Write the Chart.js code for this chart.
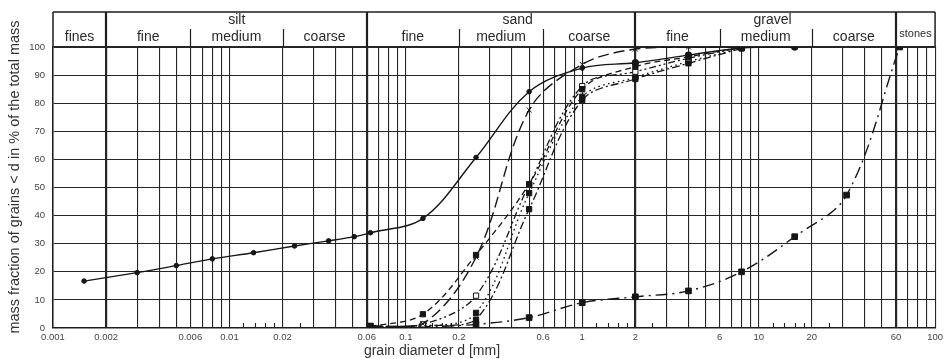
<!DOCTYPE html>
<html><head><meta charset="utf-8">
<script src="https://cdn.jsdelivr.net/npm/chart.js@4.4.1/dist/chart.umd.min.js"></script>
<style>html,body{margin:0;padding:0;background:#fff;}canvas{display:block;}</style>
</head><body>
<canvas id="c" width="947" height="359"></canvas>
<script>
// ---------- data ----------
const hydroDiameters = [0.0015, 0.003, 0.005, 0.008, 0.0137, 0.0234, 0.0365, 0.051];
const hydroSeriesA   = [16.7, 19.7, 22.2, 24.6, 26.8, 29.2, 31.0, 32.5];
const sieveDiameters = [0.063, 0.125, 0.25, 0.5, 1, 2, 4, 8, 16, 31.5, 63];
const seriesA = [33.9, 39.0, 60.7, 84.1, 92.5, 94.4, 97.1, 99.7, 100, null, null];
const seriesB = [0.5, 1.5, 25.2, 77.6, 93.8, 99.3, 100, 100, null, null, null];
const seriesC = [0.5, 4.9, 26.0, 51.2, 85.0, 93.0, 96.5, 100, null, null, null];
const seriesD = [0.5, 1.3, 11.5, 51.0, 86.1, 91.2, 96.0, 99.8, null, null, null];
const seriesE = [0.3, 0.5, 5.4, 48.0, 82.3, 89.2, 94.8, 99.6, null, null, null];
const seriesF = [0.3, 0.8, 3.0, 42.3, 81.1, 88.6, 94.2, 99.5, null, null, null];
const seriesS = [0.7, 0.5, 1.3, 3.7, 9.0, 11.1, 13.2, 20.0, 32.5, 47.3, 100];

const xTickLabels = ['0.001','0.002','0.006','0.01','0.02','0.06','0.1','0.2','0.6','1','2','6','10','20','60','100'];
const yTickValues = [0,10,20,30,40,50,60,70,80,90,100];
const minorTickValues = [0.012,0.014,0.016,0.018,0.025, 0.12,0.14,0.16,0.18,0.25, 1.2,1.4,1.6,1.8,2.5, 12,14,16,18,25];
const classBounds = [0.002, 0.06, 2, 60];
const subBounds = [0.006, 0.02, 0.2, 0.6, 6, 20];
const subEdges = [0.001, 0.002, 0.006, 0.02, 0.06, 0.2, 0.6, 2, 6, 20, 60, 100];
const subClasses = ['fines','fine','medium','coarse','fine','medium','coarse','fine','medium','coarse','stones'];
const mainClasses = ['silt','sand','gravel'];
const mainClassPos = [0.011, 0.43, 12];
const xTitle = 'grain diameter d [mm]';
const yTitle = 'mass fraction of grains < d in % of the total mass';

// ---------- helpers ----------
const FONT = "'Liberation Sans', Arial, sans-serif";
const gridValues = [];
for (let k = -3; k <= 1; k++) for (let n = 1; n <= 9; n++) gridValues.push(parseFloat((n * Math.pow(10, k)).toPrecision(6)));
gridValues.push(100);
const near = (a, b) => Math.abs(Math.log10(a) - Math.log10(b)) < 1e-6;
function pts(xs, ys) { return xs.map((x, i) => ys[i] == null ? null : {x: x, y: ys[i]}).filter(p => p); }
const INK = '#161616';

function ds(data, dash, style, radius, fill, width) {
  return {
    data: data, showLine: true, borderColor: INK, borderWidth: width || 1.3, borderDash: dash,
    tension: 0.35, pointStyle: style, pointRadius: radius,
    pointBackgroundColor: fill, pointBorderColor: INK, pointBorderWidth: 1, pointHoverRadius: radius
  };
}

const dataA = pts(hydroDiameters, hydroSeriesA).concat(pts(sieveDiameters, seriesA));
const datasets = [
  ds(dataA, [], 'circle', (c) => (c.raw && c.raw.x >= 2 ? 3.3 : 2.3), INK, 1.4),
  ds(pts(sieveDiameters, seriesB), [11, 5], 'crossRot', 3.5, INK, 1.4),
  ds(pts(sieveDiameters, seriesC), [6, 4], 'rect', 3.7, INK),
  ds(pts(sieveDiameters, seriesD), [7, 3, 2, 3, 2, 3], 'rect', 3.7, '#fff'),
  ds(pts(sieveDiameters, seriesE), [1.6, 3.4], 'rect', 3.7, INK),
  ds(pts(sieveDiameters, seriesF), [8, 3, 2, 3], 'rect', 3.7, INK),
  ds(pts(sieveDiameters, seriesS), [12, 5, 2, 5], 'rect', 4, INK, 1.4)
];

const deco = {
  id: 'deco',
  beforeDraw(chart) {
    const ctx = chart.ctx;
    ctx.save(); ctx.fillStyle = '#fff'; ctx.fillRect(0, 0, chart.width, chart.height); ctx.restore();
  },
  beforeDatasetsDraw(chart) {
    const ctx = chart.ctx, a = chart.chartArea, xs = chart.scales.x;
    const top = 12, mid = 29;
    ctx.save();
    ctx.strokeStyle = '#1e1e1e';
    ctx.lineWidth = 1.5;
    ctx.beginPath();
    ctx.moveTo(a.left, top); ctx.lineTo(a.right, top);
    ctx.moveTo(a.left, top); ctx.lineTo(a.left, a.top);
    ctx.moveTo(a.right, top); ctx.lineTo(a.right, a.top);
    ctx.stroke();
    ctx.lineWidth = 2.2;
    ctx.beginPath();
    classBounds.forEach(v => { const px = Math.round(xs.getPixelForValue(v)); ctx.moveTo(px, top); ctx.lineTo(px, a.top); });
    ctx.stroke();
    ctx.lineWidth = 1.2;
    ctx.beginPath();
    subBounds.forEach(v => { const px = Math.round(xs.getPixelForValue(v)) + 0.5; ctx.moveTo(px, mid); ctx.lineTo(px, a.top); });
    ctx.stroke();
    ctx.lineWidth = 1.1;
    ctx.beginPath();
    minorTickValues.forEach(v => { const px = Math.round(xs.getPixelForValue(v)) + 0.5; ctx.moveTo(px, a.bottom); ctx.lineTo(px, a.bottom - 5); });
    ctx.stroke();
    ctx.fillStyle = '#2a2a2a';
    ctx.textAlign = 'center'; ctx.textBaseline = 'middle';
    ctx.font = '14px ' + FONT;
    mainClasses.forEach((t, i) => ctx.fillText(t, xs.getPixelForValue(mainClassPos[i]), 20.5));
    subClasses.forEach((t, i) => {
      const c = Math.sqrt(subEdges[i] * subEdges[i + 1]);
      if (t === 'stones') { ctx.font = '11px ' + FONT; ctx.fillText(t, xs.getPixelForValue(c), 34); ctx.font = '14px ' + FONT; }
      else ctx.fillText(t, xs.getPixelForValue(c), 37.5);
    });
    ctx.restore();
  },
  afterDraw(chart) {
    const ctx = chart.ctx;
    ctx.save();
    ctx.fillStyle = '#333';
    ctx.textAlign = 'center'; ctx.textBaseline = 'middle';
    ctx.font = '14px ' + FONT;
    ctx.fillText(xTitle, 432, 351.5);
    ctx.font = '14.5px ' + FONT;
    ctx.translate(15, 177); ctx.rotate(-Math.PI / 2);
    ctx.fillText(yTitle, 0, 0);
    ctx.restore();
  }
};

new Chart(document.getElementById('c'), {
  type: 'scatter',
  data: {datasets: datasets},
  plugins: [deco],
  options: {
    responsive: false, animation: false, events: [],
    layout: {padding: {top: 47, right: 9, left: 0, bottom: 0}},
    plugins: {legend: {display: false}, tooltip: {enabled: false}, title: {display: false}},
    scales: {
      x: {
        type: 'logarithmic', min: 0.001, max: 100,
        afterBuildTicks(s) { s.ticks = gridValues.map(v => ({value: v})); },
        afterFit(s) { s.height = 31; },
        ticks: {
          autoSkip: false, maxRotation: 0, minRotation: 0, padding: 4, color: '#444',
          font: {family: FONT, size: 9.5},
          callback(v) { const i = xTickLabels.findIndex(l => near(parseFloat(l), v)); return i >= 0 ? xTickLabels[i] : ''; }
        },
        grid: {
          drawTicks: false, color: '#262626',
          lineWidth: (c) => (c.tick && classBounds.some(b => near(b, c.tick.value)) ? 2.2 : 1.1)
        },
        border: {display: true, color: '#1e1e1e', width: 1.5}
      },
      y: {
        min: 0, max: 100,
        afterBuildTicks(s) { s.ticks = yTickValues.map(v => ({value: v})); },
        afterFit(s) { s.width = 53; },
        ticks: {padding: 8, color: '#444', font: {family: FONT, size: 9.5}},
        grid: {
          drawTicks: false, color: '#262626',
          lineWidth: (c) => (c.tick && c.tick.value === 100 ? 2 : 1.1)
        },
        border: {display: true, color: '#1e1e1e', width: 1.5}
      }
    }
  }
});
</script>
</body></html>
